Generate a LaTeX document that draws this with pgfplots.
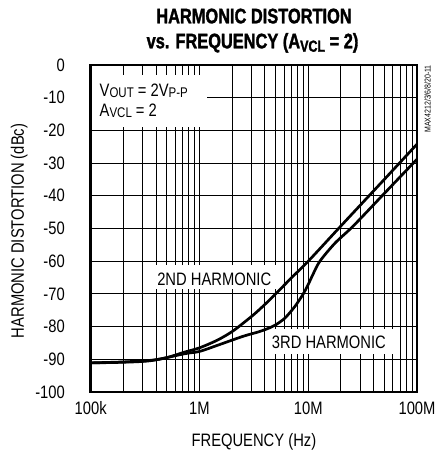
\documentclass[border=0pt]{standalone}
\usepackage{fontspec}
\setmainfont{Liberation Sans}[FakeStretch=0.82]
\newfontfamily\titlefont{Liberation Sans}[FakeStretch=0.78, FakeBold=1.5]
\usepackage{pgfplots}
\pgfplotsset{compat=1.18}
\newcommand\labfont{\fontsize{18bp}{20bp}\selectfont}
\newcommand\subfont{\fontsize{14bp}{14bp}\selectfont}
\begin{document}
\begin{tikzpicture}[x=1bp,y=1bp]
\begin{axis}[
  at={(0,0)}, anchor=south west,
  scale only axis, width=326.3bp, height=327bp,
  xmode=log, xmin=1e5, xmax=1e8, ymin=-100, ymax=0,
  xtick={1e5,1e6,1e7,1e8}, xticklabels={100k,1M,10M,100M},
  minor xtick={2e5,3e5,4e5,5e5,6e5,7e5,8e5,9e5,2e6,3e6,4e6,5e6,6e6,7e6,8e6,9e6,2e7,3e7,4e7,5e7,6e7,7e7,8e7,9e7},
  ytick={-100,-90,-80,-70,-60,-50,-40,-30,-20,-10,0},
  yticklabels={-100,-90,-80,-70,-60,-50,-40,-30,-20,-10,0},
  grid=both,
  major grid style={black, line width=1bp},
  minor grid style={black, line width=1bp},
  major tick length=0pt, minor tick length=0pt,
  axis line style={line width=2.6bp},
  tick label style={font=\labfont, inner sep=0pt},
  yticklabel style={anchor=east, xshift=-25.7bp},
  xticklabel style={anchor=north, yshift=-9.7bp},
]
\fill[white] (rel axis cs:0.0055,0.810) rectangle (rel axis cs:0.3564,0.969);
\fill[white] (rel axis cs:0.1848,0.315) rectangle (rel axis cs:0.5833,0.388);
\fill[white] (rel axis cs:0.537,0.116) rectangle (rel axis cs:0.927,0.193);
\node[anchor=base west, font=\labfont, inner sep=0pt] at (rel axis cs:0.027,0.903) {V\raisebox{-1bp}{\subfont OUT} = 2V\raisebox{-1bp}{\subfont P-P}};
\node[anchor=base west, font=\labfont, inner sep=0pt] at (rel axis cs:0.027,0.842) {A\raisebox{-1bp}{\subfont VCL} = 2};
\node[anchor=base west, font=\labfont, inner sep=0pt] at (rel axis cs:0.2034,0.3272) {2ND HARMONIC};
\node[anchor=base west, font=\labfont, inner sep=0pt] at (rel axis cs:0.5547,0.1336) {3RD HARMONIC};
% 2nd harmonic
\addplot[black, line width=2.7bp, smooth, tension=0.5] coordinates {
(1e5,-91.1) (2e5,-90.8) (3.6e5,-90.3) (5e5,-89.5) (7.3e5,-87.8) (1e6,-86.5)
(1.47e6,-84.1) (2e6,-81.5) (2.6e6,-78.6) (3.24e6,-76.0) (4e6,-73.2) (4.95e6,-70.2)
(7e6,-65.1) (1e7,-60) (2e7,-49.2) (5e7,-35) (1e8,-24.2)
};
% 3rd harmonic
\addplot[black, line width=2.7bp, smooth, tension=0.5] coordinates {
(1e5,-91.1) (2e5,-90.9) (3.6e5,-90.4) (7.3e5,-88.3) (1e6,-87.6) (1.47e6,-85.7)
(2.5e6,-83) (3.5e6,-81.6) (4.4e6,-80.4) (5e6,-79.5) (6.1e6,-77.4) (7.55e6,-73.8)
(9e6,-70) (1e7,-67.1) (1.11e7,-63.9) (1.28e7,-60) (1.76e7,-54.5) (2.6e7,-49.2)
(5e7,-39.3) (1e8,-28.8)
};
\end{axis}
\node[anchor=base, font=\titlefont\bfseries\fontsize{21bp}{21bp}\selectfont, inner sep=0pt] at (163.3,368.7) {HARMONIC DISTORTION};
\node[anchor=base, font=\titlefont\bfseries\fontsize{21bp}{21bp}\selectfont, inner sep=0pt] at (161.8,343.7) {vs. FREQUENCY (A\raisebox{-3.4bp}{\fontsize{16bp}{16bp}\selectfont VCL} = 2)};
\node[anchor=base, font=\labfont, inner sep=0pt] at (163.2,-54.7) {FREQUENCY (Hz)};
\node[anchor=base, rotate=90, font=\labfont, inner sep=0pt] at (-66.7,161) {HARMONIC DISTORTION (dBc)};
\node[anchor=east, rotate=90, font=\fontsize{8.5bp}{9bp}\selectfont, inner sep=0pt] at (336.8,327) {MAX4212/3/6/8/20-11};
\pgfresetboundingbox
\useasboundingbox (-90.7,-63) rectangle (344.3,392);
\end{tikzpicture}
\end{document}
